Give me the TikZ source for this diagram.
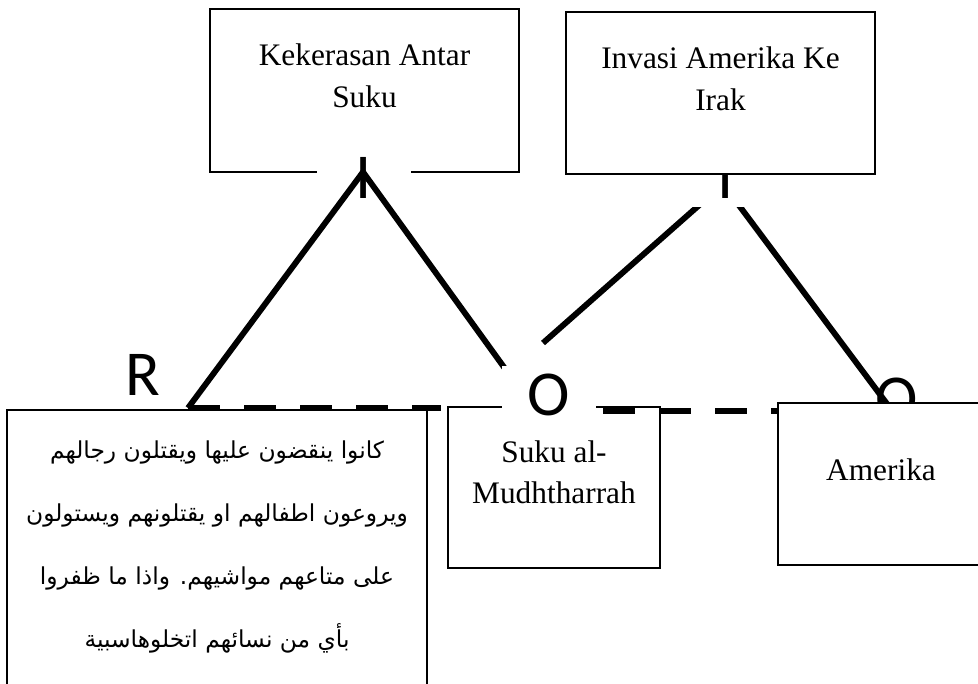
\documentclass[tikz,border=0pt]{standalone}
\usepackage{fontspec}
\setmainfont{Liberation Serif}
\newfontfamily\lblfont{Carlito}
\newfontfamily\arabicfont[Script=Arabic]{DejaVu Sans}
\TeXXeTstate=1
\begin{document}
\begin{tikzpicture}[x=0.75pt,y=-0.75pt,
  box/.style={draw=black, line width=1.1pt, fill=white, anchor=north west, inner sep=0pt, outer sep=0pt},
  lbl/.style={inner sep=0pt, minimum width=71pt, minimum height=43pt, font=\lblfont\fontsize{48}{48}\selectfont},
  lblw/.style={lbl, fill=white},
  txt/.style={anchor=base, inner sep=0pt, font=\fontsize{23.5}{28}\selectfont},
  ar/.style={anchor=base, inner sep=0pt, font=\arabicfont\fontsize{17.5}{20}\selectfont},
  leg/.style={line width=4.4pt},
  rel/.style={line width=4.6pt, dash pattern=on 24pt off 18pt}]
\useasboundingbox (0,0) rectangle (978,683);

% top-left concept box
\node[box, minimum width=231.75pt, minimum height=122.25pt] (boxA) at (210,9) {};
\node[txt] (tA1) at (364.5,65) {Kekerasan Antar};
\node[txt] (tA2) at (364.5,107) {Suku};
\node[lblw] (IA) at (364,178) {I};

% left triangle
\coordinate (apexA) at (363,172);
\coordinate (endR) at (188,408);
\coordinate (endO1) at (506,370);
\draw[leg] (endR) -- (apexA) -- (endO1);

% right triangle
\coordinate (topB1) at (705,200);
\coordinate (endO2) at (543,343);
\coordinate (topB2) at (735,200);
\coordinate (endO3) at (905,428);
\draw[leg] (topB1) -- (endO2);
\node[lbl] (O3) at (897,399) {O};
\draw[leg] (topB2) -- (endO3);
\node[lblw] (IB) at (726,178) {I};

% top-right concept box
\node[box, minimum width=231.75pt, minimum height=121.5pt] (boxB) at (566,12) {};
\node[txt] (tB1) at (720.5,68) {Invasi Amerika Ke};
\node[txt] (tB2) at (720.5,110) {Irak};

% R label and Arabic box
\node[lbl] (R) at (143,375) {R};
\node[box, minimum width=315pt, minimum height=225pt] (boxC) at (7,410) {};
\node[ar] (c1) at (217,458) {\beginR كانوا ينقضون عليها ويقتلون رجالهم\endR};
\node[ar] (c2) at (217,521) {\beginR ويروعون اطفالهم او يقتلونهم ويستولون\endR};
\node[ar] (c3) at (217,584) {\beginR على متاعهم مواشيهم. واذا ما ظفروا\endR};
\node[ar] (c4) at (217,647) {\beginR بأي من نسائهم اتخلوهاسبية\endR};

% left dashed relation
\coordinate (dL1) at (188,408);
\coordinate (dL2) at (441,408);
\draw[rel] (dL1) -- (dL2);

% Suku al-Mudhtharrah box
\node[box, minimum width=159pt, minimum height=120.75pt] (boxS) at (448,407) {};
\node[txt] (tS1) at (554,462) {Suku al-};
\node[txt] (tS2) at (554,503) {Mudhtharrah};

% right dashed relation
\coordinate (dR1) at (603,411);
\coordinate (dR2) at (790,411);
\draw[rel] (dR1) -- (dR2);
\node[lblw] (O1) at (549,395) {O};

% Amerika box
\node[box, minimum width=157.5pt, minimum height=121.5pt] (boxD) at (778,403) {};
\node[txt] (tD) at (881,480) {Amerika};
\end{tikzpicture}
\end{document}
